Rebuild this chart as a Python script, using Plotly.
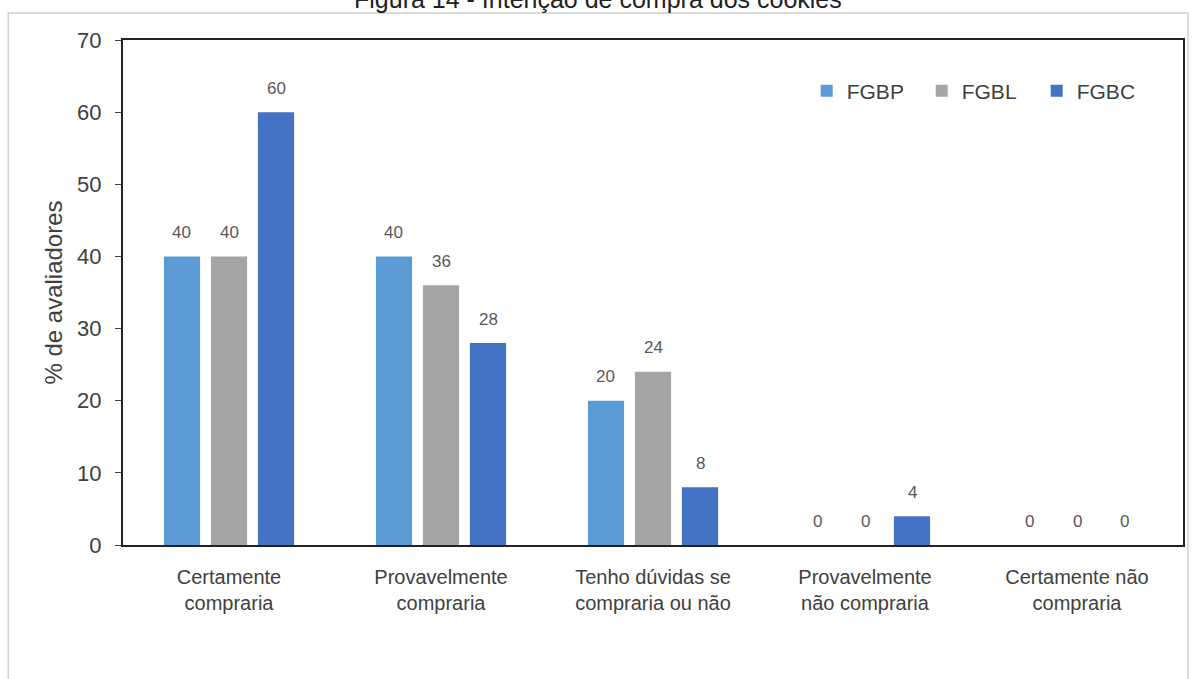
import plotly.graph_objects as go

categories = ["Certamente<br>compraria", "Provavelmente<br>compraria", "Tenho dúvidas se<br>compraria ou não",
              "Provavelmente<br>não compraria", "Certamente não<br>compraria"]
series_names = ["FGBP", "FGBL", "FGBC"]
fgbp = [40, 40, 20, 0, 0]
fgbl = [40, 36, 24, 0, 0]
fgbc = [60, 28, 8, 4, 0]
colors = ["#5B9BD5", "#A5A5A5", "#4472C4"]
y_ticks = [0, 10, 20, 30, 40, 50, 60, 70]

W, H = 1197, 679
L, R, T, B = 123, 12, 40, 134
pw = W - L - R
ph = H - T - B
BARGAP = 0.335
GROUPGAP = 0.23

fig = go.Figure()
all_vals = [fgbp, fgbl, fgbc]
for name, vals, col in zip(series_names, all_vals, colors):
    fig.add_trace(go.Bar(x=categories, y=vals, name=name, marker_color=col, marker_line_width=0))

# data labels above each bar, offset to the bar's slot within its group
cat_px = pw / len(categories)
slot_px = (1 - BARGAP) * cat_px / len(series_names)
for i, vals in enumerate(all_vals):
    off = (i - (len(series_names) - 1) / 2) * slot_px
    for c, v in zip(categories, vals):
        fig.add_annotation(x=c, y=v, xref="x", yref="y", text=str(v), showarrow=False,
                           xshift=off, yshift=24, yanchor="middle",
                           font=dict(family="Arial", size=17, color="#595959"))

fig.update_layout(
    width=W, height=H,
    margin=dict(l=L, r=R, t=T, b=B),
    paper_bgcolor="white", plot_bgcolor="white",
    barmode="group", bargap=BARGAP, bargroupgap=GROUPGAP,
    font=dict(family="Arial", color="#404040"),
    showlegend=True,
    legend=dict(orientation="h", x=(808 - L) / pw, y=(H - B - 91) / ph, xanchor="left", yanchor="middle",
                font=dict(size=21, color="#404040"), bgcolor="rgba(0,0,0,0)",
                entrywidth=70, entrywidthmode="pixels", itemwidth=30),
    xaxis=dict(showline=True, linecolor="#222222", linewidth=2, mirror=True,
               ticks="", tickfont=dict(size=20, color="#404040"), ticklabelstandoff=13),
    yaxis=dict(range=[0, 70], tickvals=y_ticks, showline=True, linecolor="#222222", linewidth=2,
               mirror=True, ticks="outside", ticklen=6, tickcolor="#444444", showgrid=False,
               tickfont=dict(size=22, color="#404040"), zeroline=False, ticklabelstandoff=9,
               title=dict(text="% de avaliadores", font=dict(size=24, color="#404040"), standoff=8)),
)

fig.add_shape(type="rect", xref="paper", yref="paper",
              x0=(8 - L) / pw, x1=(1190 - L) / pw,
              y0=(H - B - 700) / ph, y1=(H - B - 13) / ph,
              line=dict(color="#D0D0D0", width=1.5), fillcolor="rgba(0,0,0,0)", layer="below")

fig.add_annotation(text="Figura 14 - Intenção de compra dos cookies", xref="paper", yref="paper",
                   x=(599 - L) / pw, y=(H - B + 1) / ph, showarrow=False,
                   font=dict(family="Arial", size=25, color="#222222"), xanchor="center", yanchor="middle")

fig.write_html("out.html")
